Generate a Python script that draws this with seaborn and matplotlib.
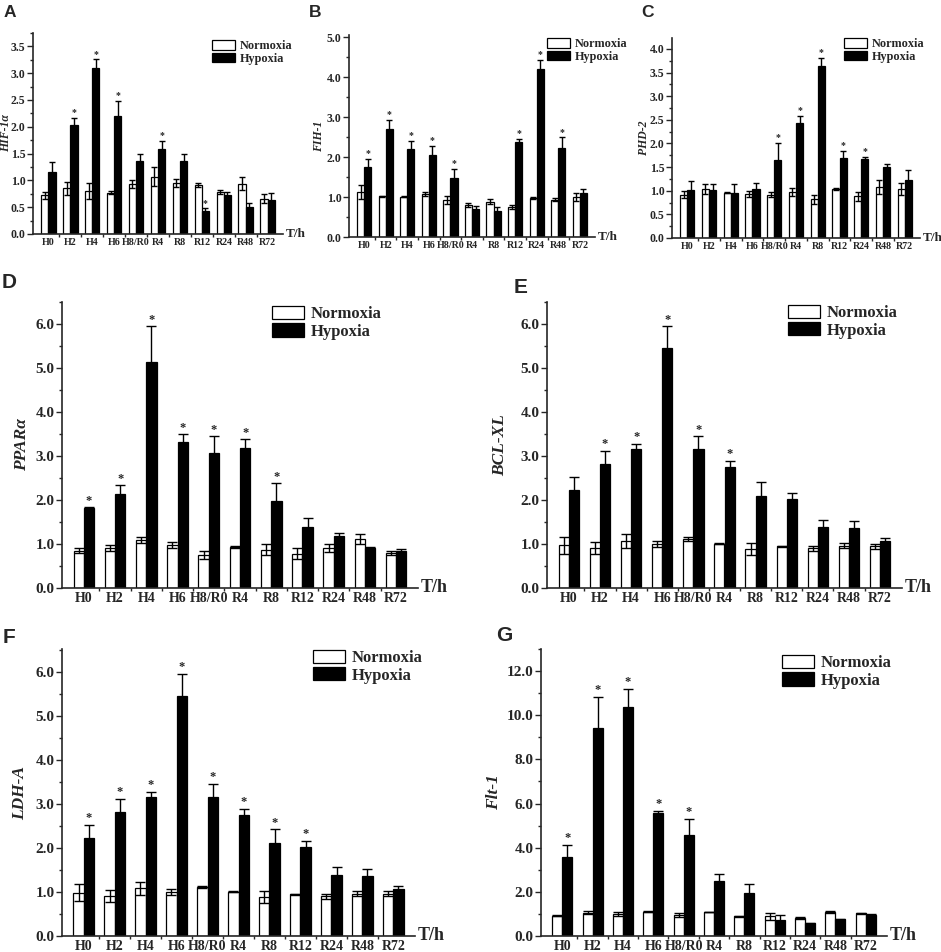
import numpy as np
import pandas as pd
import seaborn as sns
import matplotlib.pyplot as plt
from matplotlib.ticker import MultipleLocator, FormatStrFormatter

# time points shared by all panels
times = ['H0', 'H2', 'H4', 'H6', 'H8/R0', 'R4', 'R8', 'R12', 'R24', 'R48', 'R72']
groups = ['Normoxia', 'Hypoxia']

# A: HIF-1a
hif_norm = [0.72, 0.85, 0.80, 0.77, 0.93, 1.07, 0.95, 0.91, 0.78, 0.94, 0.66]
hif_norm_sem = [0.06, 0.12, 0.15, 0.03, 0.07, 0.18, 0.08, 0.04, 0.04, 0.12, 0.08]
hif_hyp = [1.15, 2.04, 3.09, 2.21, 1.36, 1.58, 1.36, 0.43, 0.73, 0.50, 0.64]
hif_hyp_sem = [0.19, 0.13, 0.17, 0.27, 0.14, 0.16, 0.14, 0.05, 0.05, 0.07, 0.12]
hif_star = [0, 1, 1, 1, 0, 1, 0, 1, 0, 0, 0]

# B: FIH-1
fih_norm = [1.12, 1.02, 1.01, 1.08, 0.93, 0.81, 0.88, 0.75, 0.97, 0.93, 1.00]
fih_norm_sem = [0.18, 0.01, 0.02, 0.05, 0.10, 0.05, 0.06, 0.06, 0.02, 0.04, 0.11]
fih_hyp = [1.75, 2.69, 2.21, 2.06, 1.47, 0.69, 0.64, 2.37, 4.21, 2.23, 1.10]
fih_hyp_sem = [0.20, 0.23, 0.19, 0.21, 0.24, 0.09, 0.10, 0.09, 0.22, 0.26, 0.09]
fih_star = [1, 1, 1, 1, 1, 0, 0, 1, 1, 1, 0]

# C: PHD-2
phd_norm = [0.92, 1.04, 0.96, 0.93, 0.92, 0.97, 0.82, 1.04, 0.88, 1.08, 1.03]
phd_norm_sem = [0.08, 0.11, 0.01, 0.07, 0.05, 0.09, 0.10, 0.02, 0.09, 0.14, 0.13]
phd_hyp = [1.02, 1.01, 0.96, 1.03, 1.66, 2.43, 3.63, 1.70, 1.67, 1.51, 1.23]
phd_hyp_sem = [0.19, 0.14, 0.18, 0.14, 0.35, 0.16, 0.18, 0.14, 0.05, 0.06, 0.20]
phd_star = [0, 0, 0, 0, 1, 1, 1, 1, 1, 0, 0]

# D: PPARa
ppar_norm = [0.85, 0.91, 1.10, 0.97, 0.75, 0.93, 0.87, 0.78, 0.90, 1.11, 0.79]
ppar_norm_sem = [0.05, 0.06, 0.07, 0.07, 0.10, 0.02, 0.12, 0.12, 0.09, 0.12, 0.05]
ppar_hyp = [1.81, 2.13, 5.14, 3.31, 3.07, 3.19, 1.97, 1.39, 1.19, 0.92, 0.84]
ppar_hyp_sem = [0.02, 0.20, 0.81, 0.18, 0.38, 0.19, 0.41, 0.19, 0.06, 0.01, 0.04]
ppar_star = [1, 1, 1, 1, 1, 1, 1, 0, 0, 0, 0]

# E: BCL-XL
bcl_norm = [0.97, 0.91, 1.07, 1.00, 1.11, 1.01, 0.88, 0.95, 0.90, 0.96, 0.95]
bcl_norm_sem = [0.20, 0.13, 0.16, 0.06, 0.04, 0.02, 0.14, 0.01, 0.05, 0.06, 0.06]
bcl_hyp = [2.22, 2.81, 3.15, 5.45, 3.15, 2.74, 2.10, 2.03, 1.38, 1.37, 1.06]
bcl_hyp_sem = [0.30, 0.31, 0.13, 0.50, 0.30, 0.15, 0.32, 0.12, 0.17, 0.15, 0.07]
bcl_star = [0, 1, 1, 1, 1, 1, 0, 0, 0, 0, 0]

# F: LDH-A
ldh_norm = [0.98, 0.91, 1.08, 1.00, 1.11, 1.01, 0.89, 0.95, 0.90, 0.96, 0.96]
ldh_norm_sem = [0.19, 0.13, 0.15, 0.06, 0.03, 0.02, 0.14, 0.01, 0.05, 0.06, 0.06]
ldh_hyp = [2.23, 2.81, 3.16, 5.45, 3.16, 2.75, 2.11, 2.03, 1.38, 1.36, 1.06]
ldh_hyp_sem = [0.30, 0.31, 0.12, 0.50, 0.30, 0.14, 0.31, 0.13, 0.18, 0.17, 0.07]
ldh_star = [1, 1, 1, 1, 1, 1, 1, 1, 0, 0, 0]

# G: Flt-1
flt_norm = [0.92, 1.06, 0.99, 1.10, 0.95, 1.08, 0.90, 0.90, 0.80, 1.09, 1.02]
flt_norm_sem = [0.02, 0.06, 0.08, 0.02, 0.09, 0.01, 0.02, 0.16, 0.04, 0.03, 0.02]
flt_hyp = [3.59, 9.40, 10.36, 5.59, 4.59, 2.47, 1.95, 0.72, 0.58, 0.76, 0.96]
flt_hyp_sem = [0.53, 1.43, 0.82, 0.09, 0.73, 0.35, 0.42, 0.21, 0.02, 0.02, 0.02]
flt_star = [1, 1, 1, 1, 1, 0, 0, 0, 0, 0, 0]

sns.set_style('ticks')
plt.rcParams['font.family'] = ['Liberation Serif', 'DejaVu Serif']

W, H = 941, 952
fig = plt.figure(figsize=(W / 100, H / 100), dpi=100)

def add_axes(l, r, t, b):
    return fig.add_axes([l / W, 1 - b / H, (r - l) / W, (b - t) / H])

def draw_panel(ax, letter, letter_xy, ylabel, ylab_x, norm, norm_sem, hyp, hyp_sem, stars,
               ymax, ystep, leg_xy, big):
    fs_xtick = 10 if big else 7.2
    fs_ytick = 11 if big else 8.5
    fs_leg = 12 if big else 8.8
    fs_ylab = 12.5 if big else 8.5
    fs_th = 13 if big else 9.5
    fs_star = 9 if big else 7
    df = pd.DataFrame({
        'time': times * 2,
        'group': [groups[0]] * len(times) + [groups[1]] * len(times),
        'value': norm + hyp,
    })
    sns.barplot(data=df, x='time', y='value', hue='group', order=times, hue_order=groups,
                palette={'Normoxia': 'white', 'Hypoxia': 'black'}, edgecolor='black',
                linewidth=0.9, width=0.66, errorbar=None, ax=ax)
    for cont, sem, vals in zip(ax.containers, [norm_sem, hyp_sem], [norm, hyp]):
        xs = [p.get_x() + p.get_width() / 2 for p in cont.patches]
        ax.errorbar(xs, vals, yerr=sem, fmt='none', ecolor='black',
                    elinewidth=1.0, capsize=3.5 if big else 2.5, capthick=1.0, zorder=5)
        if vals is hyp:
            for x, v, s, st in zip(xs, vals, sem, stars):
                if st:
                    ax.annotate('*', xy=(x, v + s), xytext=(0, 0.5), textcoords='offset points',
                                ha='center', va='bottom', fontsize=fs_star, fontweight='bold')
    sns.despine(ax=ax)
    ax.set_xlim(-0.7, len(times) - 0.3)
    ax.set_ylim(0, ymax)
    ax.yaxis.set_major_locator(MultipleLocator(ystep))
    ax.yaxis.set_minor_locator(MultipleLocator(ystep / 2))
    ax.yaxis.set_major_formatter(FormatStrFormatter('%.1f'))
    ax.set_xticks(np.arange(len(times) - 1) + 0.5, minor=True)
    ax.tick_params(axis='x', which='major', length=0, pad=3, labelsize=fs_xtick)
    ax.tick_params(axis='x', which='minor', length=2.5, width=1.0, direction='out')
    ax.tick_params(axis='y', which='major', length=4, width=1.0, direction='out',
                   labelsize=fs_ytick, pad=1.5)
    ax.tick_params(axis='y', which='minor', length=2.5, width=1.0, direction='out')
    for lab in ax.get_xticklabels() + ax.get_yticklabels():
        lab.set_fontweight('bold')
    for sp in ['left', 'bottom']:
        ax.spines[sp].set_linewidth(1.2)
    ax.set_xlabel('')
    ax.set_ylabel(ylabel, fontsize=fs_ylab, fontweight='bold', fontstyle='italic')
    ax.yaxis.set_label_coords(ylab_x, 0.5)
    ax.annotate('T/h', xy=(1, 0), xycoords='axes fraction', xytext=(2, 0),
                textcoords='offset points', ha='left', va='center',
                fontsize=fs_th, fontweight='bold')
    handles, labels = ax.get_legend_handles_labels()
    ax.legend(handles, labels, loc='upper left', bbox_to_anchor=leg_xy, frameon=False,
              borderpad=0, borderaxespad=0, handlelength=1.9, handleheight=0.85,
              handletextpad=0.4, labelspacing=0.05,
              prop={'family': 'Liberation Serif', 'weight': 'bold', 'size': fs_leg})
    fig.text(letter_xy[0] / W, 1 - letter_xy[1] / H, letter, ha='left', va='top',
             fontsize=15 if big else 12.5, fontweight='bold', family='Liberation Sans')

axA = add_axes(33, 283, 33, 234)
draw_panel(axA, 'A', (4, 5), 'HIF-1α', -0.084, hif_norm, hif_norm_sem, hif_hyp, hif_hyp_sem,
           hif_star, 3.75, 0.5, (0.716, 0.965), False)
axB = add_axes(349, 595, 35, 237)
draw_panel(axB, 'B', (309, 5), 'FIH-1', -0.098, fih_norm, fih_norm_sem, fih_hyp, fih_hyp_sem,
           fih_star, 5.05, 1.0, (0.805, 0.985), False)
axC = add_axes(672, 920, 38, 238)
draw_panel(axC, 'C', (641, 5), 'PHD-2', -0.089, phd_norm, phd_norm_sem, phd_hyp, phd_hyp_sem,
           phd_star, 4.23, 0.5, (0.694, 1.0), False)
axD = add_axes(62, 418, 302, 588)
draw_panel(axD, 'D', (2, 273), 'PPARα', -0.09, ppar_norm, ppar_norm_sem, ppar_hyp, ppar_hyp_sem,
           ppar_star, 6.5, 1.0, (0.59, 0.986), True)
axE = add_axes(547, 902, 302, 588)
draw_panel(axE, 'E', (514, 278), 'BCL-XL', -0.11, bcl_norm, bcl_norm_sem, bcl_hyp, bcl_hyp_sem,
           bcl_star, 6.5, 1.0, (0.679, 0.99), True)
axF = add_axes(62, 415, 649, 936)
draw_panel(axF, 'F', (3, 628), 'LDH-A', -0.096, ldh_norm, ldh_norm_sem, ldh_hyp, ldh_hyp_sem,
           ldh_star, 6.52, 1.0, (0.711, 0.997), True)
axG = add_axes(541, 887, 649, 936)
draw_panel(axG, 'G', (496, 626), 'Flt-1', -0.113, flt_norm, flt_norm_sem, flt_hyp, flt_hyp_sem,
           flt_star, 13.0, 2.0, (0.697, 0.979), True)

fig.savefig('out.png', dpi=100)
